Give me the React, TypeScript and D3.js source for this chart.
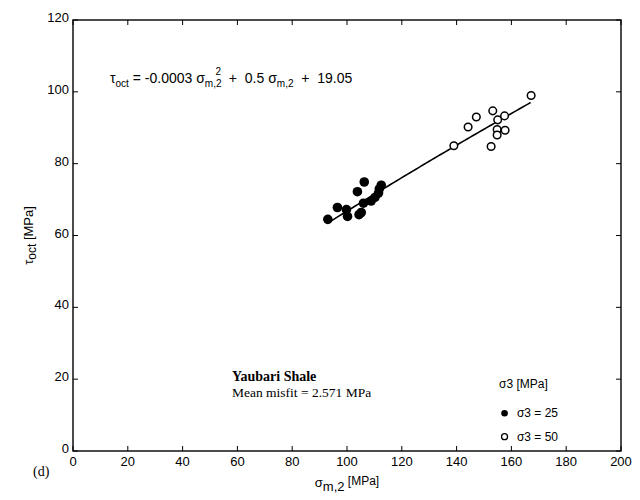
import React from "react";
import * as d3 from "d3";

const W = 640;
const H = 500;
const margin = { left: 73, right: 19, top: 20, bottom: 49 };

const xTicks = [0, 20, 40, 60, 80, 100, 120, 140, 160, 180, 200];
const yTicks = [0, 20, 40, 60, 80, 100, 120];

// sigma3 = 25 MPa (filled)
const s25Sigma = [93, 96.5, 99.8, 100.2, 103.8, 106.3, 105.2, 104.4, 106, 108.8, 110.2, 111.5, 112.5, 111.8];
const s25Tau = [64.5, 67.8, 67.2, 65.3, 72.2, 74.9, 66.4, 65.8, 69, 69.6, 70.6, 71.8, 74, 73];

// sigma3 = 50 MPa (open)
const s50Sigma = [139, 144.2, 147.2, 153.2, 155, 157.5, 154.8, 154.8, 157.7, 152.6, 167.2];
const s50Tau = [85, 90.2, 93, 94.7, 92.2, 93.3, 89.5, 88, 89.3, 84.8, 99];

// drawn fit curve (as plotted): tau = a*s^2 + b*s + c
const curveCoef = [-0.0003, 0.531, 16.7];
const curveRange = [93, 167];

export default function App() {
  const x = d3.scaleLinear().domain([0, 200]).range([margin.left, W - margin.right]);
  const y = d3.scaleLinear().domain([0, 120]).range([H - margin.bottom, margin.top]);
  const x0 = x(0), x1 = x(200), y0 = y(0), y1 = y(120);
  const tl = 5;

  const fitX = d3.range(curveRange[0], curveRange[1] + 0.01, 1);
  const line = d3
    .line<number>()
    .x((d) => x(d))
    .y((d) => y(curveCoef[0] * d * d + curveCoef[1] * d + curveCoef[2]));

  const sans = "'Liberation Sans', Arial, Helvetica, sans-serif";
  const serif = "'Liberation Serif', 'Times New Roman', serif";

  return (
    <svg width={W} height={H} style={{ position: "absolute", left: 0, top: 0, background: "#fff" }}>
      <rect x={0} y={0} width={W} height={H} fill="#fff" />
      {/* frame */}
      <rect x={x0} y={y1} width={x1 - x0} height={y0 - y1} fill="none" stroke="#000" strokeWidth={1.4} />
      {/* ticks */}
      {xTicks.map((t) => (
        <g key={"xt" + t}>
          <line x1={x(t)} x2={x(t)} y1={y0} y2={y0 - tl} stroke="#000" strokeWidth={1} />
          <line x1={x(t)} x2={x(t)} y1={y1} y2={y1 + tl} stroke="#000" strokeWidth={1} />
          <text x={x(t)} y={y0 + 15} textAnchor="middle" fontFamily={sans} fontSize={13}>
            {t}
          </text>
        </g>
      ))}
      {yTicks.map((t) => (
        <g key={"yt" + t}>
          <line x1={x0} x2={x0 + tl} y1={y(t)} y2={y(t)} stroke="#000" strokeWidth={1} />
          <line x1={x1} x2={x1 - tl} y1={y(t)} y2={y(t)} stroke="#000" strokeWidth={1} />
          <text x={x0 - 4} y={y(t) + 2} textAnchor="end" fontFamily={sans} fontSize={13}>
            {t}
          </text>
        </g>
      ))}

      {/* fit line */}
      <path d={line(fitX) || ""} fill="none" stroke="#000" strokeWidth={1.6} />

      {/* points */}
      {s25Sigma.map((s, i) => (
        <circle key={"a" + i} cx={x(s)} cy={y(s25Tau[i])} r={4.8} fill="#000" />
      ))}
      {s50Sigma.map((s, i) => (
        <circle key={"b" + i} cx={x(s)} cy={y(s50Tau[i])} r={3.8} fill="#fff" stroke="#000" strokeWidth={1.5} />
      ))}

      {/* equation */}
      <text x={x(13.5)} y={y(102.5)} fontFamily={sans} fontSize={14} style={{ whiteSpace: "pre" }}>
        <tspan>τ</tspan>
        <tspan dy={4} fontSize={10}>oct</tspan>
        <tspan dy={-4}>{" = -0.0003 σ"}</tspan>
        <tspan dy={4} fontSize={10}>m,2</tspan>
        <tspan dx={-6} dy={-12} fontSize={10}>2</tspan>
        <tspan dy={8}>{"  +  0.5 σ"}</tspan>
        <tspan dy={4} fontSize={10}>m,2</tspan>
        <tspan dy={-4}>{"  +  19.05"}</tspan>
      </text>

      {/* annotation */}
      <text x={x(58)} y={y(19.5)} fontFamily={serif} fontSize={14} fontWeight="bold">
        Yaubari Shale
      </text>
      <text x={x(58)} y={y(15)} fontFamily={serif} fontSize={13.5}>
        Mean misfit = 2.571 MPa
      </text>

      {/* legend */}
      <text x={x(155.5)} y={y(17.5)} fontFamily={sans} fontSize={12}>
        σ3 [MPa]
      </text>
      <circle cx={x(157.5)} cy={y(10.5)} r={3.3} fill="#000" />
      <text x={x(162)} y={y(10.5) + 4} fontFamily={sans} fontSize={12}>
        σ3 = 25
      </text>
      <circle cx={x(157.5)} cy={y(4)} r={3} fill="#fff" stroke="#000" strokeWidth={1.3} />
      <text x={x(162)} y={y(4) + 4} fontFamily={sans} fontSize={12}>
        σ3 = 50
      </text>

      {/* axis labels */}
      <text x={x(100)} y={H - 13} textAnchor="middle" fontFamily={sans} fontSize={13} style={{ whiteSpace: "pre" }}>
        <tspan>σ</tspan>
        <tspan dy={4} fontSize={13}>m,2</tspan>
        <tspan dy={-6} fontSize={12}>{" [MPa]"}</tspan>
      </text>
      <text
        transform={`translate(33, ${y(60)}) rotate(-90)`}
        textAnchor="middle"
        fontFamily={sans}
        fontSize={13}
        style={{ whiteSpace: "pre" }}
      >
        <tspan>τ</tspan>
        <tspan dy={3} fontSize={12}>oct</tspan>
        <tspan dy={-3}>{" [MPa]"}</tspan>
      </text>
      <text x={33} y={H - 24} fontFamily={serif} fontSize={14}>
        (d)
      </text>
    </svg>
  );
}
